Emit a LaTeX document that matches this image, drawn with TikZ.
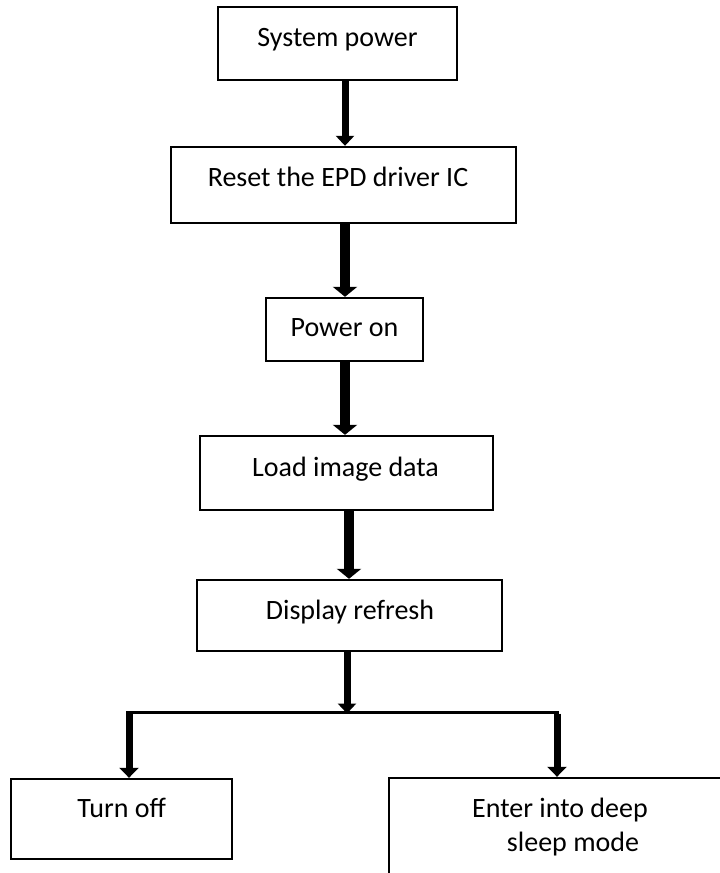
\documentclass[tikz,border=0pt]{standalone}
\usepackage{fontspec}
\setmainfont{Carlito}
\usetikzlibrary{arrows.meta}
\begin{document}
\begin{tikzpicture}[x=1pt,y=-1pt,
  box/.style={draw=black,line width=2.4pt,rectangle,inner sep=0pt,fill=white},
  txt/.style={anchor=base,inner sep=0pt,font=\fontsize{28}{33}\selectfont},
  arrA/.style={line width=7pt,-{Triangle[width=18pt,length=10pt]}},
  arrB/.style={line width=10.5pt,-{Triangle[width=24pt,length=10pt]}},
  arrC/.style={line width=7pt,-{Triangle[width=19pt,length=10pt]}},
  link/.style={line width=3pt}]
\useasboundingbox (0,0) rectangle (720,873);
\clip (0,0) rectangle (720,873);
% boxes
\node[box,minimum width=239pt,minimum height=73pt] (sp) at (337.5,43.5) {};
\node[box,minimum width=345pt,minimum height=76pt] (rst) at (343.5,185) {};
\node[box,minimum width=157pt,minimum height=63pt] (pon) at (344.5,329.5) {};
\node[box,minimum width=293pt,minimum height=74pt] (lid) at (346.5,473) {};
\node[box,minimum width=305pt,minimum height=71pt] (dr) at (349.5,615.5) {};
\node[box,minimum width=221pt,minimum height=80pt] (to) at (121.5,819) {};
\node[box,minimum width=360pt,minimum height=124pt] (es) at (569,840) {};
% texts
\node[txt] (tsp) at (337.5,46) {System power};
\node[txt] (trst) at (338,186) {Reset the EPD driver IC};
\node[txt] (tpon) at (344.5,336) {Power on};
\node[txt] (tlid) at (345.5,476) {Load image data};
\node[txt] (tdr) at (350,619) {Display refresh};
\node[txt] (tto) at (121.7,817) {Turn off};
\node[txt] (tes1) at (560,817) {Enter into deep};
\node[txt] (tes2) at (573,851) {sleep mode};
% connectors
\coordinate (s1) at (345,80);
\coordinate (e1) at (345,146);
\draw[arrA] (s1 |- sp.south) -- (e1 |- rst.north);
\draw[arrB] ([xshift=1.5pt]rst.south) -- ([xshift=1.5pt]rst.south |- pon.north);
\draw[arrB] ([xshift=0.5pt]pon.south) -- ([xshift=0.5pt]pon.south |- lid.north);
\draw[arrB] ([xshift=2.5pt]lid.south) -- ([xshift=2.5pt]lid.south |- dr.north);
\coordinate (j) at (347,712);
\coordinate (jl) at (126,712);
\coordinate (jr) at (559,712);
\draw[arrA] ([xshift=-2.5pt]dr.south) -- ([yshift=-1.5pt]j);
\draw[link] (jl) -- (jr);
\draw[arrC] ([xshift=3pt,yshift=-1.5pt]jl) -- ([xshift=3pt]jl |- to.north);
\draw[arrC] ([xshift=-2pt,yshift=-1.5pt]jr) -- ([xshift=-2pt]jr |- es.north);
\end{tikzpicture}
\end{document}
